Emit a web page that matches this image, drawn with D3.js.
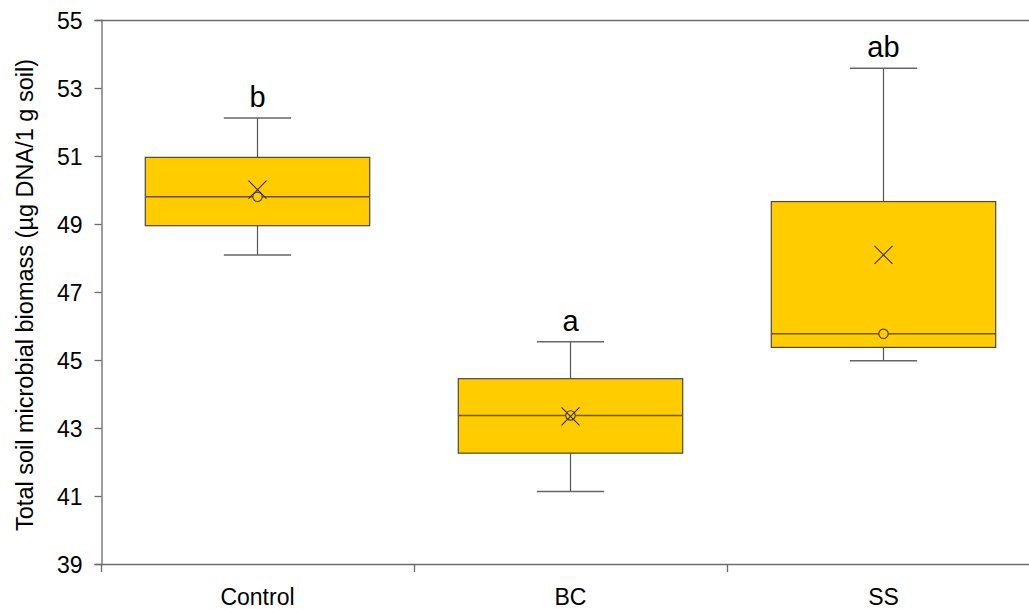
<!DOCTYPE html>
<html>
<head>
<meta charset="utf-8">
<script src="https://cdn.jsdelivr.net/npm/d3@7"></script>
<style>
  html, body { margin: 0; padding: 0; background: #fff; }
  svg { display: block; }
  text { font-family: "Liberation Sans", Arial, sans-serif; fill: #000; }
</style>
</head>
<body>
<svg id="chart" width="1029" height="609"></svg>
<script>
const categories = ["Control", "BC", "SS"];
const minVals    = [48.09, 41.13, 44.98];
const q1Vals     = [48.95, 42.26, 45.37];
const medianVals = [49.80, 43.37, 45.77];
const q3Vals     = [50.96, 44.45, 49.66];
const maxVals    = [52.12, 45.54, 53.58];
const meanVals   = [50.01, 43.34, 48.09];
const letters    = ["b", "a", "ab"];
const yTicks     = [39, 41, 43, 45, 47, 49, 51, 53, 55];
const yTitle     = "Total soil microbial biomass (µg DNA/1 g soil)";

const rows = categories.map((c, i) => ({
  cat: c, min: minVals[i], q1: q1Vals[i], med: medianVals[i],
  q3: q3Vals[i], max: maxVals[i], mean: meanVals[i], letter: letters[i]
}));

const svg = d3.select("#chart");
const pLeft = 101, pRight = 1040, pTop = 20, pBottom = 564;

const x = d3.scaleBand().domain(categories).range([pLeft, pRight]).padding(0);
const y = d3.scaleLinear().domain([39, 55]).range([pBottom, pTop]);

const axisColor = "#6b6b6b";

// top frame line
svg.append("line")
  .attr("x1", pLeft).attr("x2", pRight)
  .attr("y1", pTop + 0.5).attr("y2", pTop + 0.5)
  .attr("stroke", axisColor).attr("stroke-width", 1.3);

// y axis
const yAxis = svg.append("g")
  .attr("transform", `translate(${pLeft + 0.5},0)`)
  .call(d3.axisLeft(y).tickValues(yTicks).tickSize(7).tickPadding(12).tickFormat(d3.format("d")));
yAxis.select(".domain").attr("stroke", axisColor).attr("stroke-width", 1.3);
yAxis.selectAll(".tick line").attr("stroke", axisColor).attr("stroke-width", 1.3);
yAxis.selectAll(".tick text")
  .style("font-family", '"Liberation Sans", Arial, sans-serif')
  .style("font-size", "23px").attr("fill", "#000").attr("dy", "0.36em");

// x axis
svg.append("line")
  .attr("x1", pLeft).attr("x2", pRight)
  .attr("y1", pBottom + 0.5).attr("y2", pBottom + 0.5)
  .attr("stroke", axisColor).attr("stroke-width", 1.3);
const bounds = categories.map(c => x(c)).concat([pRight]);
svg.selectAll(".xtick").data(bounds).enter().append("line")
  .attr("class", "xtick")
  .attr("x1", d => Math.round(d) + 0.5).attr("x2", d => Math.round(d) + 0.5)
  .attr("y1", pBottom).attr("y2", pBottom + 8)
  .attr("stroke", axisColor).attr("stroke-width", 1.3);
svg.selectAll(".xlabel").data(categories).enter().append("text")
  .attr("class", "xlabel")
  .attr("x", d => x(d) + x.bandwidth() / 2)
  .attr("y", 605)
  .attr("text-anchor", "middle")
  .style("font-size", "23px")
  .text(d => d);

// y title
svg.append("text")
  .attr("transform", `translate(33,${(pTop + pBottom) / 2 + 3}) rotate(-90)`)
  .attr("text-anchor", "middle")
  .style("font-size", "23.5px")
  .text(yTitle);

// boxes
const boxW = x.bandwidth() * 0.717;
const capW = boxW * 0.3;
const g = svg.selectAll(".box").data(rows).enter().append("g").attr("class", "box");
const cx = d => x(d.cat) + x.bandwidth() / 2;

// whiskers
g.append("line")
  .attr("x1", cx).attr("x2", cx)
  .attr("y1", d => y(d.max)).attr("y2", d => y(d.q3))
  .attr("stroke", "#555").attr("stroke-width", 1.2);
g.append("line")
  .attr("x1", cx).attr("x2", cx)
  .attr("y1", d => y(d.q1)).attr("y2", d => y(d.min))
  .attr("stroke", "#555").attr("stroke-width", 1.2);
g.append("line")
  .attr("x1", d => cx(d) - capW / 2).attr("x2", d => cx(d) + capW / 2)
  .attr("y1", d => y(d.max)).attr("y2", d => y(d.max))
  .attr("stroke", "#666").attr("stroke-width", 1.5);
g.append("line")
  .attr("x1", d => cx(d) - capW / 2).attr("x2", d => cx(d) + capW / 2)
  .attr("y1", d => y(d.min)).attr("y2", d => y(d.min))
  .attr("stroke", "#666").attr("stroke-width", 1.5);

// box
g.append("rect")
  .attr("x", d => cx(d) - boxW / 2)
  .attr("width", boxW)
  .attr("y", d => y(d.q3))
  .attr("height", d => y(d.q1) - y(d.q3))
  .attr("fill", "#ffcc00")
  .attr("stroke", "#4a4a3a").attr("stroke-width", 1.2);

// median
g.append("line")
  .attr("x1", d => cx(d) - boxW / 2).attr("x2", d => cx(d) + boxW / 2)
  .attr("y1", d => y(d.med)).attr("y2", d => y(d.med))
  .attr("stroke", "#6b5500").attr("stroke-width", 1.5);

// median circle
g.append("circle")
  .attr("cx", cx).attr("cy", d => y(d.med))
  .attr("r", 4.7)
  .attr("fill", "#ffcc00").attr("stroke", "#4a3c00").attr("stroke-width", 1.1);

// mean X
const h = 9;
g.append("path")
  .attr("d", d => {
    const px = cx(d), py = y(d.mean);
    return `M${px - h},${py - h}L${px + h},${py + h}M${px - h},${py + h}L${px + h},${py - h}`;
  })
  .attr("stroke", "#3a3000").attr("stroke-width", 1.1).attr("fill", "none");

// letters
g.append("text")
  .attr("x", cx)
  .attr("y", d => y(d.max) - 11)
  .attr("text-anchor", "middle")
  .style("font-size", "29px")
  .text(d => d.letter);
</script>
</body>
</html>
